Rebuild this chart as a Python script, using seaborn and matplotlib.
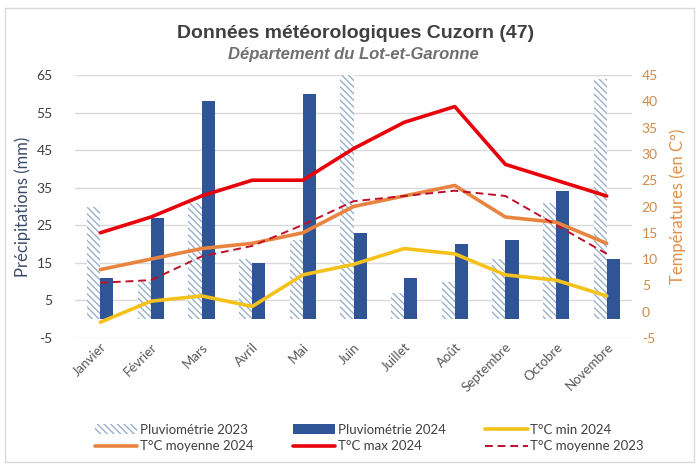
import matplotlib
matplotlib.use("Agg")
import matplotlib.pyplot as plt
import matplotlib.patches as mpatches
from matplotlib.lines import Line2D
import seaborn as sns
import pandas as pd

mois = ["Janvier", "Février", "Mars", "Avril", "Mai", "Juin", "Juillet",
        "Août", "Septembre", "Octobre", "Novembre"]
pluvio_2023 = [30, 10, 31, 16, 21, 65, 7, 10, 16, 31, 64]
pluvio_2024 = [11, 27, 58, 15, 60, 23, 11, 20, 21, 34, 16]
tmin_2024 = [-2, 2, 3, 1, 7, 9, 12, 11, 7, 6, 3]
tmoy_2024 = [8, 10, 12, 13, 15, 20, 22, 24, 18, 17, 13]
tmax_2024 = [15, 18, 22, 25, 25, 31, 36, 39, 28, 25, 22]
tmoy_2023 = [5.5, 6, 10.5, 12.5, 16.5, 21, 22, 23, 22, 16.5, 11]

left_ticks = [-5, 5, 15, 25, 35, 45, 55, 65]
right_ticks = [-5, 0, 5, 10, 15, 20, 25, 30, 35, 40, 45]

sns.set_theme(style="white")
plt.rcParams["font.family"] = ["Lato", "DejaVu Sans"]
plt.rcParams["hatch.linewidth"] = 1.0
plt.rcParams["axes.unicode_minus"] = False

C_HATCH = "#9AB0CC"
C_BLUE = "#2F5597"
C_YELLOW = "#F5C21B"
C_ORANGE = "#E8843F"
C_RED = "#E8000B"
C_DRED = "#C0102A"

fig = plt.figure(figsize=(6.97, 4.65), dpi=100)
fig.patches.append(mpatches.Rectangle((5 / 697, 3 / 465), 689 / 697, 454 / 465,
                                      transform=fig.transFigure, fill=False,
                                      edgecolor="#D9D9D9", linewidth=1.0))
ax = fig.add_axes([75 / 697, 1 - 338 / 465, 557 / 697, 263 / 465])

df_bar = pd.DataFrame({
    "Mois": mois * 2,
    "Pluie": pluvio_2023 + pluvio_2024,
    "Serie": ["Pluviométrie 2023"] * len(mois) + ["Pluviométrie 2024"] * len(mois),
})
sns.barplot(data=df_bar, x="Mois", y="Pluie", hue="Serie", ax=ax, width=0.52,
            palette=["white", C_BLUE], saturation=1, legend=False, errorbar=None)
for p in ax.containers[0]:
    p.set_facecolor("white")
    p.set_edgecolor(C_HATCH)
    p.set_hatch("\\\\\\\\\\")
    p.set_linewidth(0)
for p in ax.containers[1]:
    p.set_edgecolor("none")

ax.set_ylim(-5, 65)
ax.set_yticks(left_ticks)
ax.set_xlim(-0.5, len(mois) - 0.5)
ax.grid(axis="y", color="#D9D9D9", linewidth=1)
ax.set_axisbelow(True)
for s in ax.spines.values():
    s.set_visible(False)
ax.tick_params(axis="y", length=0, labelsize=10, labelcolor="#404040", pad=16)
ax.tick_params(axis="x", length=0, labelsize=9.5, labelcolor="#595959", pad=2)
plt.setp(ax.get_xticklabels(), rotation=45, ha="right", rotation_mode="anchor")
ax.set_xlabel("")
ax.set_ylabel("Précipitations (mm)", fontsize=12, color="#3B4A6B", labelpad=4)

ax2 = ax.twinx()
df_line = pd.DataFrame({"Mois": mois, "tmin": tmin_2024, "tmoy": tmoy_2024,
                        "tmax": tmax_2024, "tmoy23": tmoy_2023})
sns.lineplot(data=df_line, x="Mois", y="tmin", ax=ax2, color=C_YELLOW, linewidth=2.6, sort=False)
sns.lineplot(data=df_line, x="Mois", y="tmoy", ax=ax2, color=C_ORANGE, linewidth=2.6, sort=False)
sns.lineplot(data=df_line, x="Mois", y="tmax", ax=ax2, color=C_RED, linewidth=2.6, sort=False)
sns.lineplot(data=df_line, x="Mois", y="tmoy23", ax=ax2, color=C_DRED, linewidth=1.4,
             linestyle=(0, (4, 2.5)), sort=False)
ax2.set_ylim(-5, 45)
ax2.set_yticks(right_ticks)
ax2.set_xlim(-0.5, len(mois) - 0.5)
for s in ax2.spines.values():
    s.set_visible(False)
ax2.tick_params(axis="y", length=0, labelsize=10, labelcolor="#D08A4A", pad=7)
ax2.set_ylabel("Températures (en C°)", fontsize=12, color="#E0904A", labelpad=8)
ax2.grid(False)

fig.text(355.5 / 697, 1 - 33 / 465, "Données météorologiques Cuzorn (47)", ha="center", va="center",
         fontsize=14, fontweight="bold", color="#404040", family="Liberation Sans")
fig.text(353 / 697, 1 - 54 / 465, "Département du Lot-et-Garonne", ha="center", va="center",
         fontsize=12, fontweight="bold", style="italic", color="#707070", family="Liberation Sans")

h_p23 = mpatches.Patch(facecolor="white", edgecolor=C_HATCH, hatch="\\\\\\\\\\", linewidth=0)
h_p24 = mpatches.Patch(facecolor=C_BLUE, edgecolor="none")
h_tmin = Line2D([], [], color=C_YELLOW, linewidth=2.6)
h_tmoy = Line2D([], [], color=C_ORANGE, linewidth=2.6)
h_tmax = Line2D([], [], color=C_RED, linewidth=2.6)
h_tmoy23 = Line2D([], [], color=C_DRED, linewidth=1.4, linestyle=(0, (4, 2.5)))
handles = [h_p23, h_tmoy, h_p24, h_tmax, h_tmin, h_tmoy23]
labels = ["Pluviométrie 2023", "T°C moyenne 2024", "Pluviométrie 2024",
          "T°C max 2024", "T°C min 2024", "T°C moyenne 2023"]
fig.legend(handles, labels, ncol=3, loc="center", bbox_to_anchor=(0.53, 1 - 438 / 465),
           frameon=False, fontsize=9.5, handlelength=3.2, handletextpad=0.2,
           columnspacing=3.0, labelspacing=0.35, labelcolor="#404040")

fig.savefig("out.png", dpi=100)
